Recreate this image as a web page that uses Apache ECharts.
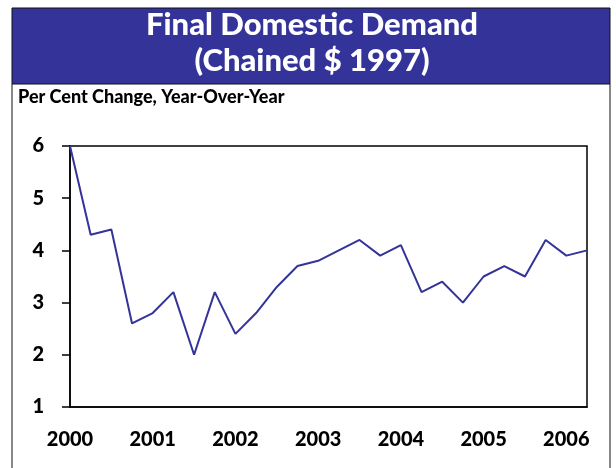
<!DOCTYPE html>
<html>
<head>
<meta charset="utf-8">
<script src="https://cdn.jsdelivr.net/npm/echarts@6/dist/echarts.min.js"></script>
<style>
  html, body { margin: 0; padding: 0; background: #fff; }
  #chart { width: 616px; height: 468px; }
</style>
</head>
<body>
<div id="chart"></div>
<script>
// quarterly, 2000Q1 .. 2006Q2
const quarters = [
  "2000Q1","2000Q2","2000Q3","2000Q4",
  "2001Q1","2001Q2","2001Q3","2001Q4",
  "2002Q1","2002Q2","2002Q3","2002Q4",
  "2003Q1","2003Q2","2003Q3","2003Q4",
  "2004Q1","2004Q2","2004Q3","2004Q4",
  "2005Q1","2005Q2","2005Q3","2005Q4",
  "2006Q1","2006Q2"
];
const demandChange = [
  6.0, 4.3, 4.4, 2.6,
  2.8, 3.2, 2.0, 3.2,
  2.4, 2.8, 3.3, 3.7,
  3.8, 4.0, 4.2, 3.9,
  4.1, 3.2, 3.4, 3.0,
  3.5, 3.7, 3.5, 4.2,
  3.9, 4.0
];
const yTicks = [1, 2, 3, 4, 5, 6];

const BLUE = "#333399";
const FONT = "Lato";

const chart = echarts.init(document.getElementById("chart"));

chart.setOption({
  animation: false,
  graphic: [
    // title banner
    { type: "rect", shape: { x: 12, y: 8, width: 598, height: 76 },
      style: { fill: BLUE, stroke: "#111", lineWidth: 1 } },
    // outer frame sides
    { type: "line", shape: { x1: 12, y1: 84, x2: 12, y2: 468 },
      style: { stroke: "#111", lineWidth: 1 } },
    { type: "line", shape: { x1: 610, y1: 84, x2: 610, y2: 468 },
      style: { stroke: "#111", lineWidth: 1 } },
    { type: "text", x: 312, y: 25,
      style: { text: "Final Domestic Demand", fill: "#fff", font: "900 31px " + FONT,
               textAlign: "center", textVerticalAlign: "middle" } },
    { type: "text", x: 312, y: 61,
      style: { text: "(Chained $ 1997)", fill: "#fff", font: "900 31px " + FONT,
               textAlign: "center", textVerticalAlign: "middle" } },
    { type: "text", x: 18, y: 97,
      style: { text: "Per Cent Change, Year-Over-Year", fill: "#000", font: "900 18px " + FONT,
               textVerticalAlign: "middle" } }
  ],
  grid: {
    left: 70, right: 29, top: 146, bottom: 61,
    show: true, borderColor: "#000", borderWidth: 1.5, backgroundColor: "transparent"
  },
  xAxis: {
    type: "category",
    data: quarters,
    boundaryGap: false,
    axisLine: { show: true, lineStyle: { color: "#000", width: 1.5 } },
    axisTick: { show: false },
    axisLabel: {
      interval: 3,
      margin: 23,
      color: "#000",
      fontFamily: FONT,
      fontWeight: 900,
      fontSize: 20,
      formatter: (v) => v.slice(0, 4)
    },
    splitLine: { show: false }
  },
  yAxis: {
    type: "value",
    min: yTicks[0],
    max: yTicks[yTicks.length - 1],
    interval: 1,
    axisLine: { show: true, lineStyle: { color: "#000", width: 1.5 } },
    axisTick: { show: true, inside: false, length: 8, lineStyle: { color: "#000", width: 1.5 } },
    axisLabel: {
      margin: 26,
      color: "#000",
      fontFamily: FONT,
      fontWeight: 900,
      fontSize: 20
    },
    splitLine: { show: false }
  },
  series: [
    {
      type: "line",
      data: demandChange,
      symbol: "none",
      lineStyle: { color: BLUE, width: 2 },
      itemStyle: { color: BLUE }
    }
  ]
});
</script>
</body>
</html>
